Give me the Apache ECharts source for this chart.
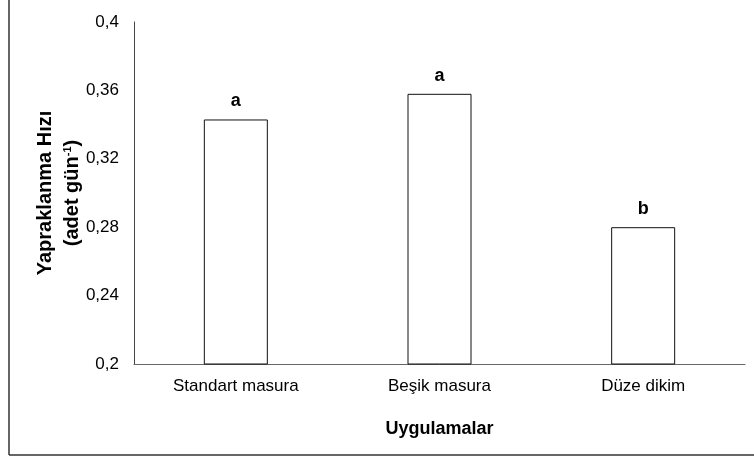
<!DOCTYPE html>
<html>
<head>
<meta charset="utf-8">
<script src="https://cdn.jsdelivr.net/npm/echarts@6/dist/echarts.min.js"></script>
<style>
  html, body { margin: 0; padding: 0; background: #fff; }
  #chart { width: 754px; height: 457px; }
</style>
</head>
<body>
<div id="chart"></div>
<script>
// uygulamalar ve yapraklanma hizi degerleri
var categories = ['Standart masura', 'Beşik masura', 'Düze dikim'];
var rates = [0.343, 0.358, 0.280];
var letters = ['a', 'a', 'b'];

var chart = echarts.init(document.getElementById('chart'));

var option = {
	animation: false,
	textStyle: { fontFamily: 'Liberation Sans, Arial, sans-serif' },
	grid: { left: 134, right: 9, top: 22, bottom: 93, containLabel: false },
	graphic: [
		{ type: 'line', shape: { x1: 9, y1: 0, x2: 9, y2: 455 }, style: { stroke: '#333', lineWidth: 1.5 } },
		{ type: 'line', shape: { x1: 9, y1: 455, x2: 754, y2: 455 }, style: { stroke: '#333', lineWidth: 1.5 } }
	],
	xAxis: {
		type: 'category',
		data: categories,
		name: 'Uygulamalar',
		nameLocation: 'middle',
		nameGap: 56,
		nameMoveOverlap: false,
		nameTextStyle: { fontSize: 18, fontWeight: 'bold', color: '#000' },
		axisLine: { lineStyle: { color: '#666', width: 1 } },
		axisTick: { show: false },
		axisLabel: { fontSize: 17, color: '#000', margin: 14 }
	},
	yAxis: {
		type: 'value',
		min: 0.2,
		max: 0.4,
		interval: 0.04,
		name: '{b|Yapraklanma Hızı}\n{b|(adet gün}{s|-1}{b|)}',
		nameLocation: 'middle',
		nameRotate: 90,
		nameGap: 48,
		nameMoveOverlap: false,
		nameTextStyle: {
			rich: {
				b: { fontSize: 20, fontWeight: 'bold', color: '#000', lineHeight: 27 },
				s: { fontSize: 11, fontWeight: 'bold', color: '#000', padding: [0, 0, 9, 0] }
			}
		},
		axisLine: { show: true, lineStyle: { color: '#444', width: 1 } },
		axisTick: { show: false },
		splitLine: { show: false },
		axisLabel: {
			fontSize: 17,
			color: '#000',
			margin: 15,
			formatter: function(v) {
				return String(+v.toFixed(2)).replace('.', ',');
			}
		}
	},
	series: [{
		type: 'bar',
		data: rates,
		barWidth: 64,
		itemStyle: { color: '#fff', borderColor: '#111', borderWidth: 1 },
		label: {
			show: true,
			position: 'top',
			distance: 9,
			fontSize: 18,
			fontWeight: 'bold',
			color: '#000',
			formatter: function(p) { return letters[p.dataIndex]; }
		}
	}]
};

chart.setOption(option);
</script>
</body>
</html>
